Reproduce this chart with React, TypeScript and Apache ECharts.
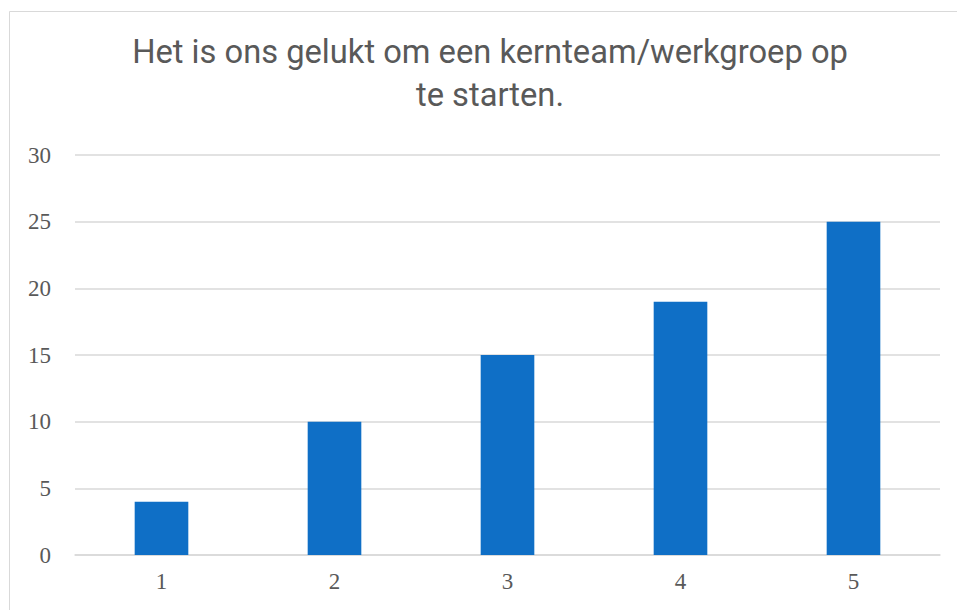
import React, { useEffect, useRef } from "react";
import * as echarts from "echarts";

const categories = ["1", "2", "3", "4", "5"];
const values = [4, 10, 15, 19, 25];
const titleLines = ["Het is ons gelukt om een kernteam/werkgroep op", "te starten."];

export default function App() {
  const ref = useRef<HTMLDivElement>(null);
  useEffect(() => {
    document.body.style.margin = "0";
    const chart = echarts.init(ref.current!, null, { renderer: "svg" });
    chart.setOption({
      animation: false,
      backgroundColor: "#ffffff",
      title: {
        text: titleLines.join("\n"),
        left: 485,
        top: 25,
        textAlign: "center",
        textStyle: {
          fontFamily: "Roboto",
          fontWeight: "normal",
          fontSize: 32.7,
          lineHeight: 43,
          color: "#595959",
        },
      },
      graphic: [
        {
          type: "rect",
          shape: { x: 9.5, y: 11.5, width: 1000, height: 700 },
          style: { fill: "none", stroke: "#D9D9D9", lineWidth: 1 },
          silent: true,
          z: -1,
        },
      ],
      grid: { left: 75, right: 17, top: 155, bottom: 55 },
      xAxis: {
        type: "category",
        data: categories,
        axisLine: { lineStyle: { color: "#D9D9D9", width: 1.5 } },
        axisTick: { show: false },
        axisLabel: {
          color: "#595959",
          fontFamily: "Liberation Serif",
          fontSize: 23,
          margin: 15,
        },
      },
      yAxis: {
        type: "value",
        min: 0,
        max: 30,
        interval: 5,
        axisLine: { show: false },
        axisTick: { show: false },
        splitLine: { lineStyle: { color: "#D9D9D9", width: 1.5 } },
        axisLabel: {
          color: "#595959",
          fontFamily: "Liberation Serif",
          fontSize: 23,
          margin: 24,
        },
      },
      series: [
        {
          type: "bar",
          data: values,
          barWidth: "31%",
          itemStyle: { color: "#0F6FC6" },
        },
      ],
    });
    return () => chart.dispose();
  }, []);
  return <div ref={ref} style={{ width: 957, height: 610 }} />;
}
